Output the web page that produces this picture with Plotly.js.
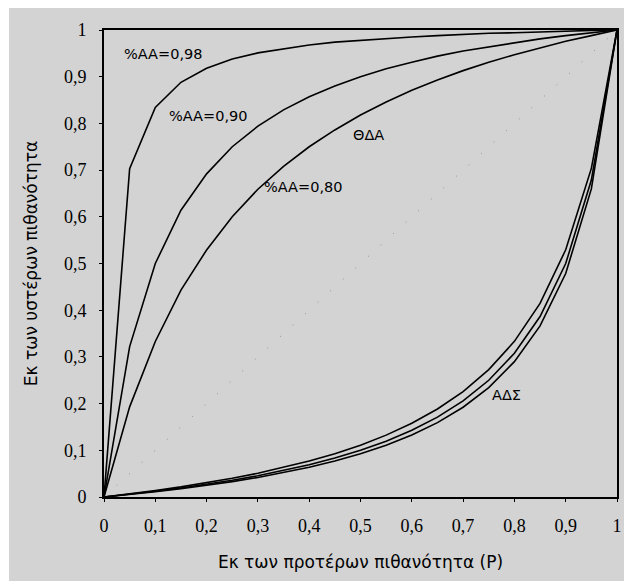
<!DOCTYPE html>
<html>
<head>
<meta charset="utf-8">
<script src="https://cdn.plot.ly/plotly-3.0.1.min.js"></script>
<style>
html,body{margin:0;padding:0;background:#ffffff;}
#chart{position:absolute;left:9px;top:8px;width:615px;height:573px;}
</style>
</head>
<body>
<div id="chart"></div>
<script>
// Prior probability (x axis)
const prior = [0,0.05,0.1,0.15,0.2,0.25,0.3,0.35,0.4,0.45,0.5,0.55,0.6,0.65,0.7,0.75,0.8,0.85,0.9,0.95,1];

// Upper curves (ΘΔΑ)
const aa098 = [0,0.703,0.834,0.888,0.918,0.938,0.951,0.960,0.968,0.974,0.978,0.982,0.985,0.988,0.991,0.993,0.994,0.996,0.998,0.999,1];
const aa090 = [0,0.322,0.500,0.614,0.692,0.750,0.794,0.829,0.857,0.880,0.900,0.917,0.931,0.944,0.955,0.964,0.973,0.981,0.988,0.994,1];
const aa080 = [0,0.193,0.333,0.443,0.529,0.600,0.659,0.708,0.750,0.786,0.818,0.846,0.871,0.893,0.913,0.931,0.947,0.962,0.976,0.988,1];

// Lower curves (ΑΔΣ)
const adsA = [0,0.0065,0.0137,0.0216,0.0303,0.040,0.0508,0.0631,0.0769,0.0928,0.111,0.1325,0.158,0.1884,0.2258,0.2727,0.3333,0.4146,0.5294,0.7037,1];
const adsB = [0,0.0058,0.0122,0.0192,0.0270,0.0357,0.0455,0.0565,0.0690,0.0833,0.100,0.1196,0.1429,0.171,0.2059,0.250,0.3077,0.3864,0.500,0.6786,1];
const adsC = [0,0.0053,0.0112,0.0177,0.0249,0.0329,0.0419,0.0521,0.0637,0.0770,0.0926,0.1108,0.1327,0.1593,0.1922,0.2343,0.2898,0.3663,0.4786,0.6597,1];

// Diagonal reference
const diagX = [0,1];
const diagY = [0,1];

// Tick values
const tickVals = [0,0.1,0.2,0.3,0.4,0.5,0.6,0.7,0.8,0.9,1];

// Labels
const labels = [
  {text:'%AA=0,98', x:0.035, y:0.949},
  {text:'%AA=0,90', x:0.123, y:0.816},
  {text:'%AA=0,80', x:0.308, y:0.664},
  {text:'ΘΔΑ', x:0.481, y:0.775},
  {text:'ΑΔΣ', x:0.752, y:0.218}
];

const lineStyle = {color:'#000000', width:1.6};
const traces = [
  {x:diagX, y:diagY, mode:'lines', line:{color:'#8a8a8a', width:1, dash:'1px,16px'}, hoverinfo:'skip'},
  {x:prior, y:aa098, mode:'lines', line:lineStyle},
  {x:prior, y:aa090, mode:'lines', line:lineStyle},
  {x:prior, y:aa080, mode:'lines', line:lineStyle},
  {x:prior, y:adsA, mode:'lines', line:lineStyle},
  {x:prior, y:adsB, mode:'lines', line:lineStyle},
  {x:prior, y:adsC, mode:'lines', line:lineStyle}
];

const serif = 'Liberation Serif';
const sans = 'DejaVu Sans';

const layout = {
  width:615, height:573,
  margin:{l:95, r:7, t:22, b:84},
  paper_bgcolor:'#d3d3d3',
  plot_bgcolor:'#d3d3d3',
  showlegend:false,
  separators:', ',
  font:{family:serif, size:17, color:'#000'},
  xaxis:{
    range:[0,1], tickvals:tickVals, ticks:'outside', ticklen:3, tickcolor:'#000',
    ticklabelstandoff:8,
    tickfont:{family:serif, size:18, color:'#000'}, showgrid:false, zeroline:false,
    showline:true, linecolor:'#000', linewidth:2, mirror:true,
    title:{text:'Εκ των προτέρων πιθανότητα (P)', font:{family:sans, size:17, color:'#000'}, standoff:22},
    fixedrange:true
  },
  yaxis:{
    range:[0,1], tickvals:tickVals, ticks:'outside', ticklen:3, tickcolor:'#000',
    ticklabelstandoff:9,
    tickfont:{family:serif, size:18, color:'#000'}, showgrid:false, zeroline:false,
    showline:true, linecolor:'#000', linewidth:2, mirror:true,
    title:{text:'Εκ των υστέρων πιθανότητα', font:{family:sans, size:17, color:'#000'}, standoff:22},
    fixedrange:true
  },
  annotations: labels.map(l => ({
    text:l.text, x:l.x, y:l.y, xref:'x', yref:'y', xanchor:'left', yanchor:'middle',
    showarrow:false, font:{family:sans, size:14.5, color:'#000'}
  }))
};

Plotly.newPlot('chart', traces, layout, {displayModeBar:false, staticPlot:true});
</script>
</body>
</html>
